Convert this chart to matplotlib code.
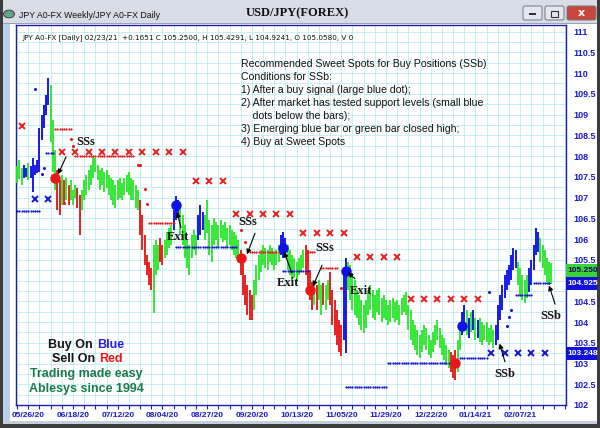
import matplotlib
matplotlib.use('Agg')
import matplotlib.pyplot as plt
from matplotlib.patches import Rectangle, FancyBboxPatch, Circle, Polygon
from matplotlib.transforms import blended_transform_factory
import numpy as np

# ---------------- data ----------------
highs = [
    107.75, 107.90, 107.70, 107.78, 107.70, 107.83, 107.76, 107.95, 107.78, 107.90,
    108.67, 108.99, 109.23, 109.47, 109.88, 109.71, 108.87, 108.14, 107.66, 107.42,
    107.54, 107.42, 107.47, 107.30, 107.42, 107.18, 107.30, 107.23, 107.06, 107.18,
    107.42, 107.54, 107.66, 107.78, 107.97, 107.95, 107.78, 107.66, 107.71, 107.61,
    107.66, 107.54, 107.47, 107.42, 107.30, 107.42, 107.47, 107.35, 107.47, 107.54,
    107.61, 107.47, 107.42, 107.30, 107.18, 106.94, 106.58, 106.10, 105.61, 105.45,
    105.30, 105.86, 105.98, 105.86, 106.02, 105.86, 105.98, 106.17, 106.27, 106.34,
    106.70, 107.04, 106.94, 106.82, 106.58, 106.34, 105.98, 105.86, 106.10, 106.22,
    106.10, 106.58, 106.82, 106.65, 106.58, 106.94, 106.46, 106.34, 106.51, 106.41,
    106.34, 106.46, 106.34, 106.41, 106.27, 106.34, 106.22, 106.17, 106.10, 105.98,
    105.73, 105.49, 105.13, 104.89, 104.77, 104.65, 105.01, 105.37, 105.61, 105.73,
    105.86, 105.78, 105.73, 105.86, 105.78, 105.69, 105.73, 105.86, 106.10, 106.17,
    106.02, 105.86, 105.73, 105.61, 105.54, 105.45, 105.54, 105.61, 105.73, 105.86,
    105.73, 105.25, 104.96, 104.89, 104.89, 105.01, 104.89, 104.94, 104.89, 105.01,
    105.20, 104.77, 104.53, 104.29, 104.05, 103.93, 105.25, 105.54, 105.45, 105.37,
    105.13, 105.01, 104.77, 104.65, 104.53, 104.41, 104.53, 104.77, 104.89, 104.77,
    104.65, 104.77, 104.82, 104.58, 104.65, 104.53, 104.41, 104.53, 104.58, 104.48,
    104.53, 104.41, 104.58, 104.65, 104.72, 104.41, 104.29, 104.05, 103.93, 103.81,
    103.69, 103.81, 103.93, 103.86, 103.69, 103.57, 103.76, 103.93, 104.05, 103.86,
    103.69, 103.61, 103.45, 103.33, 103.28, 103.20, 103.33, 103.57, 104.00, 104.24,
    104.41, 104.29, 104.10, 104.24, 104.29, 104.10, 104.05, 104.10, 104.00, 103.93,
    104.00, 103.86, 103.93, 103.81, 103.93, 104.41, 104.65, 104.89, 105.13, 105.25,
    105.37, 105.61, 105.78, 105.73, 105.45, 105.30, 105.13, 105.01, 105.13, 105.30,
    105.49, 105.86, 106.27, 106.17, 106.02, 105.86, 105.73, 105.54, 105.45, 105.43,
]
lows = [
    107.35, 107.45, 107.30, 107.47, 107.50, 107.42, 107.47, 107.13, 107.54, 107.60,
    107.61, 108.39, 108.67, 108.99, 109.23, 108.34, 107.61, 107.18, 106.70, 106.58,
    106.82, 106.82, 106.94, 106.82, 106.94, 106.82, 107.00, 106.75, 106.10, 106.70,
    106.94, 107.06, 107.18, 107.30, 107.47, 107.61, 107.42, 107.18, 107.30, 107.13,
    107.23, 107.06, 106.94, 106.82, 106.75, 106.94, 107.00, 106.94, 107.06, 107.13,
    107.06, 106.94, 106.94, 106.75, 106.70, 106.10, 105.73, 105.37, 105.13, 104.89,
    104.77, 104.22, 105.13, 105.25, 105.45, 105.37, 105.54, 105.61, 105.78, 105.86,
    106.22, 106.46, 106.51, 106.10, 105.86, 105.54, 105.30, 105.13, 105.54, 105.73,
    105.61, 105.98, 106.10, 106.22, 105.98, 106.15, 105.61, 105.45, 105.86, 105.98,
    105.78, 106.02, 105.93, 105.98, 105.78, 105.86, 105.73, 105.61, 105.54, 105.45,
    105.13, 104.65, 104.41, 104.17, 104.05, 104.05, 104.29, 104.65, 105.01, 105.20,
    105.37, 105.30, 105.25, 105.45, 105.37, 105.25, 105.37, 105.45, 105.61, 105.54,
    105.59, 105.25, 105.13, 105.01, 105.06, 104.96, 105.13, 105.20, 105.30, 105.13,
    104.65, 104.53, 104.29, 104.41, 104.29, 104.53, 104.17, 104.41, 104.29, 104.53,
    104.41, 103.93, 103.69, 103.45, 103.28, 103.18, 103.57, 103.25, 104.77, 104.53,
    104.29, 104.17, 104.10, 103.93, 103.81, 103.73, 103.86, 104.17, 104.29, 104.10,
    104.05, 104.24, 104.17, 104.00, 104.10, 104.05, 103.93, 104.00, 104.10, 104.00,
    104.05, 103.93, 104.17, 104.24, 104.17, 103.81, 103.57, 103.45, 103.33, 103.20,
    103.13, 103.28, 103.45, 103.33, 103.20, 103.13, 103.28, 103.45, 103.57, 103.37,
    103.20, 103.08, 102.96, 102.89, 102.80, 102.65, 102.60, 102.80, 103.33, 103.69,
    103.81, 103.69, 103.61, 103.76, 103.81, 103.57, 103.61, 103.52, 103.45, 103.57,
    103.52, 103.45, 103.52, 103.37, 103.45, 103.57, 104.05, 104.29, 104.58, 104.77,
    104.89, 105.01, 105.25, 105.30, 104.89, 104.65, 104.53, 104.46, 104.58, 104.72,
    104.89, 105.25, 105.61, 105.69, 105.45, 105.30, 105.13, 104.96, 104.89, 104.92,
]
bar_colors = (
    "gggbbgbbbb" "bbbbbgggrr" "grgrgggrrg" "gggggggggg" "gggggggggg"
    "gggggrrrrr" "rgggrrgggg" "bbbggggggg" "gbbbgggggg" "gggggggggg"
    "rrrrrrgggg" "ggggggggbb" "bggggggggr" "rrrgrggrgg" "rrrrrrbbgg"
    "gggggggggg" "gggggggggg" "gggggggggg" "gggggggggg" "ggggrrrggb"
    "bgbgbgbggg" "ggggbbbbbb" "bbbbgggggb" "bbbbgggggg"
)

tick_idx = [5, 25, 45, 65, 85, 105, 125, 145, 165, 185, 205, 225]
tick_labels = ["05/26/20", "06/18/20", "07/12/20", "08/04/20", "08/27/20", "09/20/20",
               "10/13/20", "11/05/20", "11/29/20", "12/22/20", "01/14/21", "02/07/21"]
y_ticks = [102, 102.5, 103, 103.5, 104, 104.5, 105, 105.5, 106, 106.5,
           107, 107.5, 108, 108.5, 109, 109.5, 110, 110.5, 111]
y_hidden = [105]   # label covered by the price box in the reference

red_x_idx = [2, 20, 26, 32, 38, 44, 50, 56, 62, 68, 74, 80, 86, 92, 98, 104, 110, 116, 122,
             128, 134, 140, 146, 152, 158, 164, 170, 176, 182, 188, 194, 200, 206]
red_x_px = [108.72] + [108.10] * 10 + [107.40] * 3 + [106.60] * 5 + [106.14] * 4 + \
           [105.57] * 4 + [104.55] * 6
blue_x_idx = [8, 14, 212, 218, 224, 230, 236]
blue_x_px = [106.96, 106.96, 103.25, 103.25, 103.25, 103.25, 103.25]

red_stop_segments = [(17, 24, 108.65), (26, 52, 108.00), (59, 70, 106.39),
                     (104, 117, 105.69), (130, 133, 105.69), (136, 143, 105.30)]
red_stop_singles = [(21, 106.87), (24, 108.41), (25, 108.24), (54, 107.78), (55, 107.78),
                    (57, 107.20), (58, 106.84), (100, 106.22), (102, 105.93), (145, 104.82)]
blue_stop_segments = [(0, 10, 106.67), (13, 16, 108.07), (71, 98, 105.81), (119, 130, 105.23),
                      (147, 165, 102.43), (166, 195, 103.01), (198, 210, 103.13),
                      (223, 230, 104.65), (231, 238, 104.94)]
blue_stop_singles = [(8, 109.61), (11, 107.57), (12, 107.71), (211, 104.72),
                     (219, 103.90), (220, 104.12), (221, 104.30)]

buy_idx = [71, 119, 147, 199]
buy_px = [106.82, 105.78, 105.23, 103.90]
sell_idx = [17, 100, 131, 196]
sell_px = [107.47, 105.54, 104.77, 103.01]

# (label, text_x, text_y, tail_x, tail_y, head_x, head_y)
notes = [
    ("SSs", 30.8, 108.34, 21.9, 107.98, 18.3, 107.56),
    ("SSs", 103.3, 106.41, 106.4, 106.14, 102.8, 105.63),
    ("SSs", 137.7, 105.78, 136.4, 105.37, 132.3, 104.86),
    ("Exit", 72.0, 106.05, 73.3, 106.27, 71.5, 106.65),
    ("Exit", 121.1, 104.94, 122.9, 105.18, 119.4, 105.69),
    ("Exit", 153.8, 104.75, 151.1, 105.04, 148.0, 105.20),
    ("SSb", 218.2, 102.75, 218.2, 103.04, 215.8, 103.48),
    ("SSb", 238.8, 104.14, 240.6, 104.43, 237.9, 104.88),
]

info_lines = ["Recommended Sweet Spots for Buy Positions (SSb)",
              "Conditions for SSb:",
              "1) After a buy signal (large blue dot);",
              "2) After market has tested support levels (small blue",
              "    dots below the bars);",
              "3) Emerging blue bar or green bar closed high;",
              "4) Buy at Sweet Spots"]
header = "JPY A0-FX [Daily] 02/23/21  +0.1651 C 105.2500, H 105.4291, L 104.9241, O 105.0580, V 0"
last_close, stop_level, low_level = 105.250, 104.925, 103.248

# ---------------- figure ----------------
W, H = 600, 428
fig = plt.figure(figsize=(6, 4.28), dpi=100)
fig.patch.set_facecolor('white')

def rect(x0, y0, x1, y1, fc, ec='none', lw=0, z=-5):
    fig.add_artist(Rectangle((x0 / W, 1 - y1 / H), (x1 - x0) / W, (y1 - y0) / H,
                             transform=fig.transFigure, facecolor=fc, edgecolor=ec,
                             lw=lw, zorder=z))

# window chrome
rect(0, 0, 600, 24, '#d8dde5')
rect(0, 23, 600, 24, '#9aa4b0')
rect(0, 0, 3, 428, '#3c3c3c', z=-4)
rect(3, 24, 10, 424, '#b9d0e8', z=-4)
rect(597, 0, 600, 428, '#3c3c3c', z=-4)
rect(0, 424, 600, 428, '#3c3c3c', z=-4)
rect(3, 421, 597, 424, '#c4cfdc', z=-4)

# icon
fig.add_artist(Circle((9 / W, 1 - 14 / H), 5.5 / W, transform=fig.transFigure,
                      facecolor='#7b8a96', edgecolor='#333', lw=0.6, zorder=-3))
fig.add_artist(Polygon([[6 / W, 1 - 17 / H], [12 / W, 1 - 17 / H], [9 / W, 1 - 10 / H]],
                       closed=True, transform=fig.transFigure, facecolor='#3ec46b',
                       edgecolor='none', zorder=-2))
fig.text(19 / W, 1 - 15 / H, "JPY A0-FX Weekly/JPY A0-FX Daily", fontsize=6.3,
         family='Liberation Sans', color='#111', va='center', ha='left')
fig.text(297 / W, 1 - 13 / H, "USD/JPY(FOREX)", fontsize=9, family='Liberation Serif',
         weight='bold', color='#111', va='center', ha='center')

# window buttons
for (x0, x1, fc) in [(523, 542, '#e4e8ee'), (545, 564, '#e4e8ee'), (567, 596, '#c9463d')]:
    fig.add_artist(FancyBboxPatch((x0 / W, 1 - 20 / H), (x1 - x0) / W, 14 / H,
                                  boxstyle='round,pad=0,rounding_size=0.004',
                                  transform=fig.transFigure, facecolor=fc,
                                  edgecolor='#6d7886', lw=0.7, zorder=-3))
fig.add_artist(Rectangle((529 / W, 1 - 15 / H), 7 / W, 2 / H, transform=fig.transFigure,
                         facecolor='#333', edgecolor='none', zorder=-2))
fig.add_artist(Rectangle((551 / W, 1 - 16.5 / H), 7 / W, 6 / H, transform=fig.transFigure,
                         facecolor='none', edgecolor='#333', lw=0.8, zorder=-2))
fig.text(581.5 / W, 1 - 13 / H, "x", fontsize=8, weight='bold', color='white',
         ha='center', va='center', family='DejaVu Sans')

# ---------------- main axes ----------------
ax = fig.add_axes([16 / W, 1 - 405 / H, 550 / W, 380 / H])
ax.set_facecolor('white')
ax.set_xlim(-0.5, 245.5)
ax.set_ylim(102.0, 111.157)

for yv in np.arange(102.0, 111.2, 0.25):
    ax.axhline(yv, color='#bdeef2', lw=0.6, zorder=0)
for xv in range(0, 246, 5):
    ax.axvline(xv, color='#bdeef2', lw=0.6, zorder=0)

for s in ax.spines.values():
    s.set_color('#1e1ea8')
    s.set_linewidth(1.0)

x = np.arange(len(highs))
cmap = {'g': '#2ee62e', 'b': '#1010e8', 'r': '#e81818'}
cols = [cmap[c] for c in bar_colors]
ax.vlines(x, lows, highs, colors=cols, lw=1.35, zorder=3)

# stop dots
for (a, b, p) in red_stop_segments:
    xi = np.arange(a, b + 1)
    ax.plot(xi, [p] * len(xi), ls='none', marker='o', ms=1.6, mew=0, color='#e81818', zorder=4)
rs_x, rs_y = zip(*red_stop_singles)
ax.plot(rs_x, rs_y, ls='none', marker='o', ms=2.2, mew=0, color='#e81818', zorder=4)
for (a, b, p) in blue_stop_segments:
    xi = np.arange(a, b + 1)
    ax.plot(xi, [p] * len(xi), ls='none', marker='o', ms=1.6, mew=0, color='#1414c8', zorder=4)
bs_x, bs_y = zip(*blue_stop_singles)
ax.plot(bs_x, bs_y, ls='none', marker='o', ms=2.2, mew=0, color='#1414c8', zorder=4)

# x markers
ax.plot(red_x_idx, red_x_px, ls='none', marker='x', ms=5, mew=1.4, color='#e82020', zorder=4)
ax.plot(blue_x_idx, blue_x_px, ls='none', marker='x', ms=5, mew=1.4, color='#1414d0', zorder=4)

# signal dots
ax.plot(buy_idx, buy_px, ls='none', marker='o', ms=6.5, color='#1010e8', zorder=5)
ax.plot(sell_idx, sell_px, ls='none', marker='o', ms=6.5, color='#e81818', zorder=5)

# annotations
for (lab, tx, ty, ax0, ay0, hx, hy) in notes:
    ax.text(tx, ty, lab, fontsize=9, family='Liberation Serif', weight='bold',
            color='#151515', ha='center', va='center', zorder=7)
    ax.annotate('', xy=(hx, hy), xytext=(ax0, ay0),
                arrowprops=dict(arrowstyle='-|>', color='black', lw=0.8,
                                mutation_scale=7, shrinkA=0, shrinkB=0), zorder=7)

# ticks
ax.set_xticks(tick_idx)
ax.set_xticklabels(tick_labels)
ax.set_xticks(range(0, 246, 5), minor=True)
ax.tick_params(axis='x', which='both', direction='out', length=3, width=0.8,
               color='#1e1ea8', labelsize=6, labelcolor='#1a1acc', pad=2)
for t in ax.get_xticklabels():
    t.set_fontweight('bold')
    t.set_family('Liberation Sans')

ax.yaxis.tick_right()
ax.set_yticks(y_ticks)
ax.set_yticklabels(['' if v in y_hidden else '{:g}'.format(v) for v in y_ticks])
ax.tick_params(axis='y', length=0, pad=5, labelsize=6.5, labelcolor='#1a1acc')
for t in ax.get_yticklabels():
    t.set_fontweight('bold')
    t.set_family('Liberation Sans')

# price boxes on right axis
bt = blended_transform_factory(ax.transAxes, ax.transData)
for (p, fc, tc) in [(last_close, '#3ad13a', '#0c0c60'), (stop_level, '#1010d8', 'white'),
                    (low_level, '#1010d8', 'white')]:
    ax.add_patch(Rectangle((1.0, p - 0.155), 31 / 550, 0.31, transform=bt, facecolor=fc,
                           edgecolor='none', clip_on=False, zorder=6))
    ax.text(1.0 + 1.5 / 550, p, '{:.3f}'.format(p), transform=bt, fontsize=6.0,
            weight='bold', color=tc, ha='left', va='center', clip_on=False,
            family='Liberation Sans', zorder=7)

# header and texts
ax.text(6 / 550, 1 - 13 / 380, header, transform=ax.transAxes, fontsize=5.2,
        family='Liberation Sans Narrow', color='#111', ha='left', va='center', zorder=7)

for k, line in enumerate(info_lines):
    ax.text(225 / 550, 1 - (39 + k * 13) / 380, line, transform=ax.transAxes,
            fontsize=7.6, family='Liberation Sans', color='#111', ha='left',
            va='center', zorder=7)

def duo(xr, y, left, right, rc):
    ax.text((xr - 16) / 550, (405 - y) / 380, left, transform=ax.transAxes, fontsize=9,
            weight='bold', family='Liberation Sans', color='#111', ha='right',
            va='center', zorder=7)
    ax.text((xr + 4 - 16) / 550, (405 - y) / 380, right, transform=ax.transAxes,
            fontsize=9, weight='bold', family='Liberation Sans', color=rc, ha='left',
            va='center', zorder=7)

duo(93, 345, "Buy On", "Blue", '#2020e8')
duo(95, 359, "Sell On", "Red", '#e81818')
ax.text((86 - 16) / 550, (405 - 374) / 380, "Trading made easy", transform=ax.transAxes,
        fontsize=9, weight='bold', family='Liberation Sans', color='#1a7a4c',
        ha='center', va='center', zorder=7)
ax.text((86 - 16) / 550, (405 - 389) / 380, "Ablesys since 1994", transform=ax.transAxes,
        fontsize=9, weight='bold', family='Liberation Sans', color='#1a7a4c',
        ha='center', va='center', zorder=7)

fig.savefig('out.png', dpi=100, facecolor=fig.get_facecolor())
